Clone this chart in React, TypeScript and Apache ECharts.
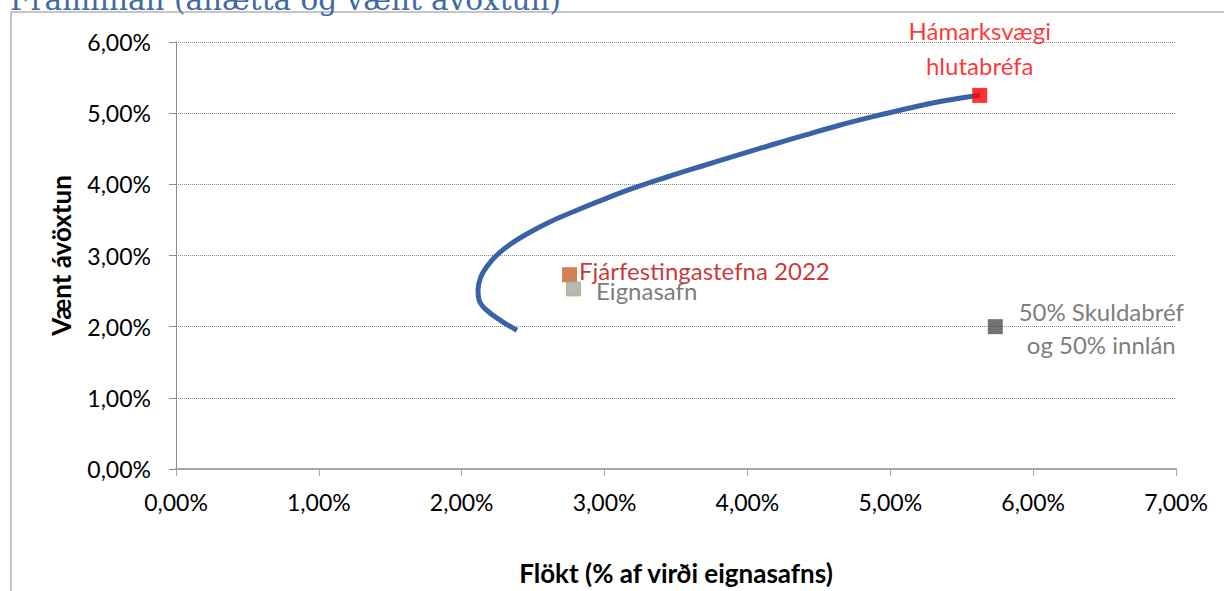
import React, { useEffect, useRef } from "react";
import * as echarts from "echarts";

// Efficient frontier (x = volatility %, y = expected return %)
const frontierX = [2.387, 2.278, 2.170, 2.121, 2.114, 2.134, 2.182, 2.254, 2.351, 2.471, 2.616, 2.785, 2.954, 3.196, 3.437, 3.678, 3.920, 4.161, 4.402, 4.644, 4.885, 5.127, 5.368, 5.626];
const frontierY = [1.95, 2.078, 2.239, 2.377, 2.515, 2.699, 2.860, 3.021, 3.173, 3.320, 3.472, 3.619, 3.757, 3.942, 4.103, 4.254, 4.402, 4.549, 4.692, 4.830, 4.954, 5.069, 5.170, 5.253];

const maxEquity = [5.626, 5.25];
const policy2022 = [2.755, 2.73];
const portfolio = [2.783, 2.53];
const bondsDeposits = [5.735, 2.0];

const labels = {
  maxEquity: "Hámarksvægi\nhlutabréfa",
  policy2022: "Fjárfestingastefna 2022",
  portfolio: "Eignasafn",
  bondsDeposits: "50% Skuldabréf\nog 50% innlán",
};

const xTicks = { min: 0, max: 7, interval: 1 };
const yTicks = { min: 0, max: 6, interval: 1 };

const titleText = "Framlínan (áhætta og vænt ávöxtun)";
const xName = "Flökt (% af virði eignasafns)";
const yName = "Vænt ávöxtun";

const FONT = "Lato";
const pct = (v: number) => v.toFixed(2).replace(".", ",") + "%";

export default function App() {
  const ref = useRef<HTMLDivElement>(null);
  useEffect(() => {
    if (!ref.current) return;
    const chart = echarts.init(ref.current, null, { renderer: "svg" });
    const frontier = frontierX.map((x, i) => [x, frontierY[i]]);
    chart.setOption({
      animation: false,
      backgroundColor: "#ffffff",
      textStyle: { fontFamily: FONT },
      graphic: [
        {
          type: "rect",
          shape: { x: 11, y: 12, width: 1400, height: 800 },
          style: { fill: "none", stroke: "#b3b3b3", lineWidth: 1.5 },
          silent: true,
          z: -1,
        },
        {
          type: "text",
          x: 10,
          y: 0,
          style: {
            text: titleText,
            fill: "#3e6aa6",
            font: "29.5px 'DejaVu Serif'",
            verticalAlign: "middle",
            align: "left",
          },
        },
      ],
      grid: { left: 176, right: 48, top: 42, bottom: 116, containLabel: false },
      xAxis: {
        type: "value",
        min: xTicks.min,
        max: xTicks.max,
        interval: xTicks.interval,
        name: xName,
        nameLocation: "middle",
        nameGap: 91,
        nameTextStyle: { fontFamily: FONT, fontSize: 26, fontWeight: "bold", color: "#000" },
        axisLine: { show: true, lineStyle: { color: "#a6a6a6", width: 2 } },
        axisTick: { show: true, length: 7, lineStyle: { color: "#a6a6a6" } },
        axisLabel: { formatter: pct, fontFamily: FONT, fontSize: 23, color: "#000", margin: 21 },
        splitLine: { show: false },
      },
      yAxis: {
        type: "value",
        min: yTicks.min,
        max: yTicks.max,
        interval: yTicks.interval,
        name: yName,
        nameLocation: "middle",
        nameGap: 102,
        nameRotate: 90,
        nameTextStyle: { fontFamily: FONT, fontSize: 26, fontWeight: "bold", color: "#000" },
        axisLine: { show: true, lineStyle: { color: "#8c8c8c", width: 1 } },
        axisTick: { show: true, length: 7, lineStyle: { color: "#8c8c8c" } },
        axisLabel: { formatter: pct, fontFamily: FONT, fontSize: 23, color: "#000", margin: 25 },
        splitLine: { show: true, lineStyle: { color: "#8c8c8c", type: [1, 1], width: 1 } },
      },
      series: [
        {
          type: "line",
          data: frontier,
          smooth: 0.4,
          showSymbol: false,
          lineStyle: { color: "#3a63a7", width: 5 },
          z: 2,
        },
        {
          type: "scatter",
          data: [maxEquity],
          symbol: "rect",
          symbolSize: 15,
          itemStyle: { color: "#ff0000" },
          label: {
            show: true,
            formatter: labels.maxEquity,
            position: "inside",
            offset: [0, -47],
            align: "center",
            verticalAlign: "middle",
            color: "#ff0000",
            fontFamily: FONT,
            fontSize: 24,
            lineHeight: 35,
          },
          z: 5,
        },
        {
          type: "scatter",
          data: [bondsDeposits],
          symbol: "rect",
          symbolSize: 15,
          itemStyle: { color: "#505050" },
          label: {
            show: true,
            formatter: labels.bondsDeposits,
            position: "inside",
            offset: [106, 1.5],
            align: "center",
            verticalAlign: "middle",
            color: "#595959",
            fontFamily: FONT,
            fontSize: 24,
            lineHeight: 33,
          },
          z: 5,
        },
        {
          type: "scatter",
          data: [policy2022],
          symbol: "rect",
          symbolSize: 15,
          itemStyle: { color: "#c5622a" },
          label: {
            show: true,
            formatter: labels.policy2022,
            position: "right",
            distance: 2,
            offset: [0, -4],
            color: "#c00000",
            fontFamily: FONT,
            fontSize: 24,
          },
          z: 5,
        },
        {
          type: "scatter",
          data: [portfolio],
          symbol: "rect",
          symbolSize: 14,
          itemStyle: { color: "#a6a6a6", borderColor: "#9bbb59", borderWidth: 1 },
          label: {
            show: true,
            formatter: labels.portfolio,
            position: "right",
            distance: 15,
            offset: [0, 2],
            color: "#595959",
            fontFamily: FONT,
            fontSize: 24,
          },
          z: 6,
        },
      ],
    });
    return () => chart.dispose();
  }, []);
  return (
    <div
      ref={ref}
      style={{ position: "fixed", left: 0, top: 0, width: 1224, height: 591 }}
    />
  );
}
